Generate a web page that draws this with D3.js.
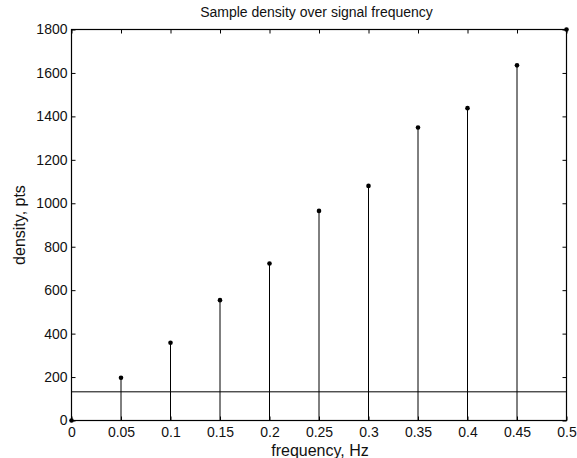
<!DOCTYPE html>
<html>
<head>
<meta charset="utf-8">
<script src="https://cdn.jsdelivr.net/npm/d3@7"></script>
<style>
  body { margin: 0; background: #fff; }
  svg { display: block; font-family: "Liberation Sans", Arial, sans-serif; }
</style>
</head>
<body>
<div id="chart"></div>
<script>
// stem plot data
const frequency = [0, 0.05, 0.1, 0.15, 0.2, 0.25, 0.3, 0.35, 0.4, 0.45, 0.5];
const density = [0, 197, 358, 554, 723, 965, 1080, 1349, 1438, 1635, 1800];
const thresholdLevel = 132;
const xTicks = [0, 0.05, 0.1, 0.15, 0.2, 0.25, 0.3, 0.35, 0.4, 0.45, 0.5];
const yTicks = [0, 200, 400, 600, 800, 1000, 1200, 1400, 1600, 1800];

(function () {
    const W = 577, H = 458;
    const margin = { top: 29.5, right: 10.5, bottom: 37.5, left: 71.5 },
        width = W - margin.left - margin.right,
        height = H - margin.top - margin.bottom;

    const svg = d3.select("#chart").append("svg")
        .attr("width", W).attr("height", H);

    const g = svg.append("g")
        .attr("transform", "translate(" + margin.left + "," + margin.top + ")");

    const xScale = d3.scaleLinear().domain([0, 0.5]).range([0, width]);
    const yScale = d3.scaleLinear().domain([0, 1800]).range([height, 0]);

    // axes, ticks pointing inward (matlab style box)
    const fmt = d => String(+d.toFixed(2));
    const styleAxis = sel => {
        sel.select(".domain").remove();
        sel.selectAll(".tick line").attr("stroke", "#000");
        sel.selectAll(".tick text").attr("fill", "#111").attr("font-size", "14px")
            .attr("font-family", "Liberation Sans, Arial, sans-serif");
    };

    g.append("g")
        .attr("transform", "translate(0," + height + ")")
        .call(d3.axisBottom(xScale).tickValues(xTicks).tickFormat(fmt).tickSize(-4).tickPadding(7))
        .call(styleAxis);

    g.append("g")
        .call(d3.axisTop(xScale).tickValues(xTicks).tickFormat("").tickSize(-4))
        .call(styleAxis);

    g.append("g")
        .call(d3.axisLeft(yScale).tickValues(yTicks).tickFormat(d3.format("d")).tickSize(-4).tickPadding(4))
        .call(styleAxis);

    g.append("g")
        .attr("transform", "translate(" + width + ",0)")
        .call(d3.axisRight(yScale).tickValues(yTicks).tickFormat("").tickSize(-4))
        .call(styleAxis);

    // threshold line
    g.append("line")
        .attr("x1", 0).attr("x2", width)
        .attr("y1", yScale(thresholdLevel)).attr("y2", yScale(thresholdLevel))
        .attr("stroke", "#000").attr("stroke-width", 1);

    // stems
    const pts = frequency.map((f, i) => ({ f: f, v: density[i] }));
    g.selectAll("line.stem")
        .data(pts)
        .enter().append("line")
        .attr("class", "stem")
        .attr("x1", d => xScale(d.f)).attr("x2", d => xScale(d.f))
        .attr("y1", yScale(0)).attr("y2", d => yScale(d.v))
        .attr("stroke", "#000").attr("stroke-width", 1);

    // box
    g.append("rect")
        .attr("width", width).attr("height", height)
        .attr("fill", "none").attr("stroke", "#000").attr("stroke-width", 1.2);

    g.selectAll("circle.pt")
        .data(pts)
        .enter().append("circle")
        .attr("class", "pt")
        .attr("cx", d => xScale(d.f)).attr("cy", d => yScale(d.v))
        .attr("r", 2.3).attr("fill", "#000");

    // labels
    svg.append("text")
        .attr("x", 316.5).attr("y", 16.5)
        .attr("text-anchor", "middle").attr("font-size", "14px").attr("fill", "#111")
        .text("Sample density over signal frequency");

    svg.append("text")
        .attr("x", 320).attr("y", 456)
        .attr("text-anchor", "middle").attr("font-size", "16px").attr("fill", "#111")
        .text("frequency, Hz");

    svg.append("text")
        .attr("transform", "rotate(-90)")
        .attr("x", -(margin.top + height / 2)).attr("y", 25)
        .attr("text-anchor", "middle").attr("font-size", "16px").attr("fill", "#111")
        .text("density, pts");
})();
</script>
</body>
</html>
